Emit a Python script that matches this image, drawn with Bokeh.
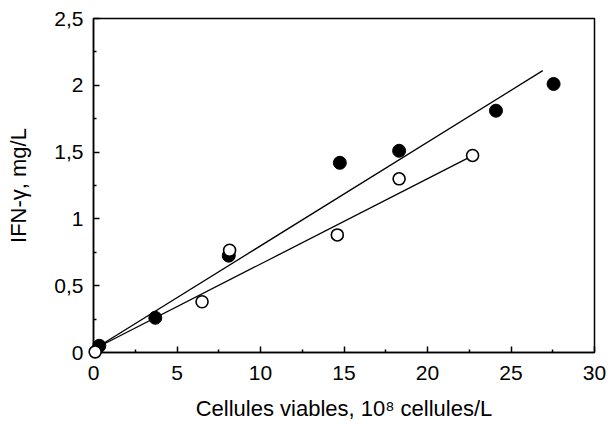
from bokeh.plotting import figure
from bokeh.models import FixedTicker
from bokeh.embed import file_html
from bokeh.resources import INLINE

# Data
filled_x = [0.35, 3.7, 8.1, 14.75, 18.3, 24.1, 27.55]
filled_y = [0.05, 0.26, 0.725, 1.42, 1.51, 1.81, 2.01]
open_x = [0.1, 6.5, 8.15, 14.6, 18.3, 22.7]
open_y = [0.005, 0.38, 0.765, 0.88, 1.30, 1.475]

fit1_x = [0.1, 26.9]
fit1_y = [0.03, 2.11]
fit2_x = [0.1, 22.5]
fit2_y = [0.03, 1.46]

x_ticks = [0, 5, 10, 15, 20, 25, 30]
x_minor = [2.5, 7.5, 12.5, 17.5, 22.5, 27.5]
y_ticks = [0, 0.5, 1, 1.5, 2, 2.5]
y_minor = [0.25, 0.75, 1.25, 1.75, 2.25]
y_tick_labels = ["0", "0,5", "1", "1,5", "2", "2,5"]

FONT = "Liberation Sans"

p = figure(width=606, height=436, x_range=(0, 30), y_range=(0, 2.5),
           output_backend="svg", toolbar_location=None,
           min_border_left=93, min_border_top=18, min_border_right=12, min_border_bottom=84)

p.xgrid.visible = False
p.ygrid.visible = False
p.outline_line_color = "black"
p.outline_line_width = 1.5
p.background_fill_color = "white"
p.border_fill_color = "white"

p.line(fit1_x, fit1_y, line_color="black", line_width=1.3)
p.line(fit2_x, fit2_y, line_color="black", line_width=1.3)
p.scatter(filled_x, filled_y, size=13, fill_color="black", line_color="black", line_width=1,
          level="overlay")
p.scatter(open_x, open_y, size=12, fill_color="white", line_color="black", line_width=1.6,
          level="overlay")

p.xaxis.ticker = FixedTicker(ticks=x_ticks, minor_ticks=x_minor)
p.yaxis.ticker = FixedTicker(ticks=y_ticks, minor_ticks=y_minor)
p.yaxis.major_label_overrides = {t: l for t, l in zip(y_ticks, y_tick_labels)}

for ax in (p.xaxis[0], p.yaxis[0]):
    ax.axis_line_color = "black"
    ax.axis_line_width = 1.5
    ax.major_tick_in = 6
    ax.major_tick_out = 0
    ax.minor_tick_in = 3
    ax.minor_tick_out = 0
    ax.major_tick_line_width = 1.5
    ax.minor_tick_line_width = 1.5
    ax.major_label_text_font = FONT
    ax.major_label_text_font_size = "21px"
    ax.major_label_text_color = "black"
    ax.axis_label_text_font = FONT
    ax.axis_label_text_font_size = "22px"
    ax.axis_label_text_font_style = "normal"
    ax.axis_label_text_color = "black"

p.xaxis.axis_label = "Cellules viables, 10⁸ cellules/L"
p.yaxis.axis_label = "IFN-γ, mg/L"
p.xaxis.major_label_standoff = 13
p.xaxis.axis_label_standoff = 13
p.yaxis.major_label_standoff = 10
p.yaxis.axis_label_standoff = 20

open("out.html", "w").write(file_html(p, INLINE))
